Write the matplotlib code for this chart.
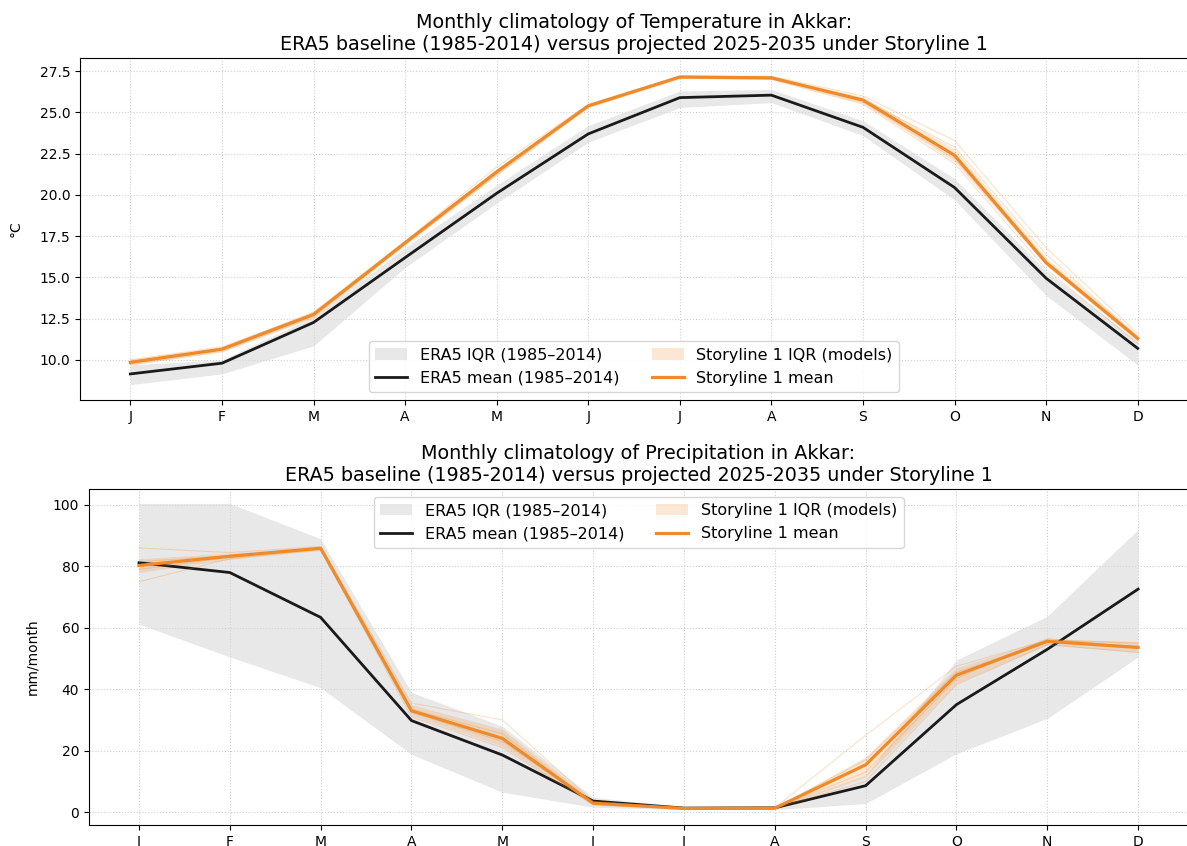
import matplotlib
matplotlib.use("Agg")
import matplotlib.pyplot as plt
import numpy as np

months = ["J", "F", "M", "A", "M", "J", "J", "A", "S", "O", "N", "D"]

# Temperature (°C)
t_era_mean = [9.15, 9.8, 12.27, 16.2, 20.1, 23.7, 25.9, 26.05, 24.1, 20.45, 14.95, 10.7]
t_era_q25 = [8.5, 9.15, 10.85, 15.6, 19.5, 23.2, 25.3, 25.6, 23.6, 19.7, 13.9, 9.7]
t_era_q75 = [9.7, 10.0, 12.6, 16.8, 20.6, 24.2, 26.3, 26.4, 24.5, 21.0, 15.4, 11.1]
t_s1_mean = [9.85, 10.65, 12.75, 17.1, 21.4, 25.4, 27.15, 27.1, 25.75, 22.4, 15.9, 11.3]
t_s1_q25 = [9.7, 10.5, 12.55, 16.95, 21.2, 25.3, 27.05, 27.0, 25.55, 22.0, 15.7, 11.1]
t_s1_q75 = [10.05, 10.8, 12.95, 17.25, 21.6, 25.55, 27.25, 27.2, 25.95, 22.8, 16.2, 11.5]
t_models = [
    [9.9, 10.7, 12.9, 17.2, 21.7, 25.5, 27.2, 27.2, 26.0, 23.3, 16.8, 11.6],
    [9.7, 10.5, 12.6, 17.0, 21.2, 25.3, 27.1, 27.0, 25.5, 21.9, 15.5, 11.0],
    [10.0, 10.8, 12.8, 17.1, 21.4, 25.4, 27.2, 27.1, 25.8, 22.9, 16.4, 11.4],
    [9.8, 10.6, 12.7, 17.0, 21.3, 25.4, 27.1, 27.1, 25.6, 22.2, 15.8, 11.2],
]

# Precipitation (mm/month)
p_era_mean = [81.2, 78.0, 63.4, 29.8, 18.6, 3.6, 1.3, 1.4, 8.6, 35.0, 53.0, 72.6]
p_era_q25 = [61.2, 50.5, 40.5, 18.8, 6.5, 1.6, 0.8, 0.8, 2.8, 19.0, 30.5, 50.5]
p_era_q75 = [100.5, 100.5, 89.0, 39.0, 28.0, 4.8, 1.9, 1.9, 12.0, 49.5, 63.8, 92.0]
p_s1_mean = [80.3, 83.3, 85.9, 33.0, 24.0, 2.9, 1.2, 1.3, 15.4, 44.6, 55.6, 53.6]
p_s1_q25 = [78.0, 82.3, 85.2, 31.5, 21.5, 2.2, 1.0, 1.0, 11.5, 42.0, 54.5, 52.0]
p_s1_q75 = [82.5, 84.3, 86.6, 35.0, 27.0, 3.8, 1.5, 1.6, 18.0, 47.0, 56.5, 55.5]
p_models = [
    [86.0, 84.5, 86.5, 35.5, 30.0, 3.5, 1.2, 1.4, 25.0, 47.5, 56.0, 55.0],
    [75.0, 82.5, 85.5, 31.0, 21.0, 2.5, 1.1, 1.2, 10.0, 41.5, 54.5, 52.0],
    [79.0, 83.0, 86.0, 33.5, 25.5, 3.0, 1.2, 1.3, 17.0, 45.5, 55.5, 54.0],
    [81.5, 83.5, 85.8, 32.5, 23.0, 2.8, 1.3, 1.3, 13.0, 43.5, 56.5, 53.5],
]

ORANGE = "#ef8a2a"
GRAYBAND = "#d9d9d9"

fig = plt.figure(figsize=(11.87, 8.46), dpi=100)
ax1 = fig.add_axes([0.0674, 0.5272, 0.9335, 0.4042])
ax2 = fig.add_axes([0.0750, 0.0248, 0.9259, 0.3972])

x = np.arange(12)


def draw(ax, era_mean, era_q25, era_q75, s1_mean, s1_q25, s1_q75, models, var, unit, loc, lpad):
    h1 = ax.fill_between(x, era_q25, era_q75, color=GRAYBAND, alpha=0.6, lw=0,
                         label="ERA5 IQR (1985\u20132014)")
    h2, = ax.plot(x, era_mean, color="#1a1a1a", lw=2.0, label="ERA5 mean (1985\u20132014)")
    for m in models:
        ax.plot(x, m, color=ORANGE, lw=0.8, alpha=0.25)
    h3 = ax.fill_between(x, s1_q25, s1_q75, color=ORANGE, alpha=0.2, lw=0,
                         label="Storyline 1 IQR (models)")
    h4, = ax.plot(x, s1_mean, color=ORANGE, lw=2.3, label="Storyline 1 mean")
    ax.set_xticks(x)
    ax.set_xticklabels(months)
    ax.set_xlim(-0.55, 11.55)
    ax.grid(True, linestyle=":", color="#d0d0d0", lw=0.8)
    ax.set_axisbelow(True)
    ax.set_ylabel(unit, fontsize=10, labelpad=lpad)
    ax.tick_params(labelsize=10)
    ax.set_title(f"Monthly climatology of {var} in Akkar:\n"
                 "ERA5 baseline (1985-2014) versus projected 2025-2035 under Storyline 1",
                 fontsize=13.8, pad=6)
    ax.legend(handles=[h1, h2, h3, h4], ncol=2, loc=loc, fontsize=11.5, framealpha=0.8,
              columnspacing=2.0)


draw(ax1, t_era_mean, t_era_q25, t_era_q75, t_s1_mean, t_s1_q25, t_s1_q75, t_models,
     "Temperature", "°C", "lower center", 12)
ax1.set_ylim(7.57, 28.3)
ax1.set_yticks([10.0, 12.5, 15.0, 17.5, 20.0, 22.5, 25.0, 27.5])

draw(ax2, p_era_mean, p_era_q25, p_era_q75, p_s1_mean, p_s1_q25, p_s1_q75, p_models,
     "Precipitation", "mm/month", "upper center", 10)
ax2.set_ylim(-4.2, 105.2)
ax2.set_yticks([0, 20, 40, 60, 80, 100])

fig.savefig("out.png", dpi=100)
